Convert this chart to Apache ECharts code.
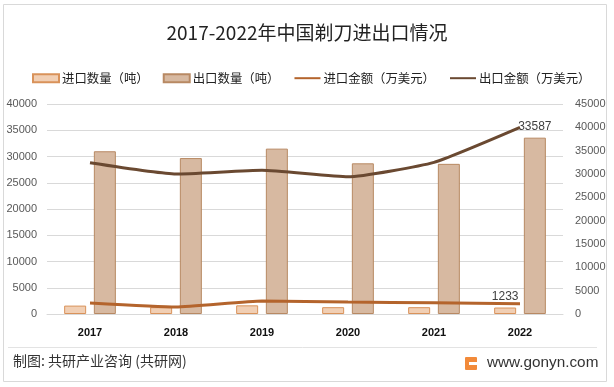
<!DOCTYPE html>
<html><head><meta charset="utf-8">
<script src="https://cdn.jsdelivr.net/npm/echarts@6/dist/echarts.min.js"></script>
<style>html,body{margin:0;padding:0;background:#fff}#c{width:614px;height:387px}</style>
</head><body><div id="c"></div>
<script>
const years = ['2017','2018','2019','2020','2021','2022'];
const importQty = [1600, 1300, 1650, 1300, 1300, 1233];
const exportQty = [31000, 29700, 31500, 28700, 28600, 33587];
const importVal = [2350, 1500, 2770, 2560, 2400, 2200];
const exportVal = [32400, 30000, 30800, 29400, 32500, 40000];
const leftTicks = {min:0, max:40000, interval:5000};
const rightTicks = {min:0, max:45000, interval:5000};

const chart = echarts.init(document.getElementById('c'));
const lastLabel = () => ({
  show: true, position: 'top', color: '#404040', fontSize: 12,
  formatter: p => p.dataIndex === 5 ? String(p.value) : ''
});
const plain = v => String(v);
chart.setOption({
  animation: false,
  title: {text: '2017-2022年中国剃刀进出口情况', left: 'center', top: 18,
    textStyle: {fontSize: 19, fontWeight: 'normal', color: '#222', fontFamily: 'Noto Sans CJK SC'}},
  legend: {top: 67, left: 27, itemWidth: 26, itemHeight: 8, itemGap: 14,
    textStyle: {fontSize: 12.4, color: '#222', fontFamily: 'Noto Sans CJK SC', padding:[0,0,0,-2]},
    data: [
      {name:'进口数量（吨）', icon:'rect'},
      {name:'出口数量（吨）', icon:'rect'},
      {name:'进口金额（万美元）', itemStyle:{opacity:0}},
      {name:'出口金额（万美元）', itemStyle:{opacity:0}}
    ]},
  grid: {left: 47, right: 51, top: 104, bottom: 73},
  xAxis: {type: 'category', data: years,
    axisLine: {lineStyle: {color: '#d9d9d9'}}, axisTick: {show: false},
    axisLabel: {color: '#111', fontWeight: 'bold', fontSize: 11, margin: 13}},
  yAxis: [
    {type: 'value', ...leftTicks,
      axisLabel: {color: '#595959', fontSize: 11, margin: 10, formatter: plain},
      splitLine: {lineStyle: {color: '#d9d9d9'}}},
    {type: 'value', ...rightTicks,
      axisLabel: {color: '#595959', fontSize: 11, margin: 12, formatter: plain},
      splitLine: {show: false}}
  ],
  series: [
    {name:'进口数量（吨）', type:'bar', data: importQty, barWidth: 22, barGap: '35%',
      itemStyle: {color:'#f1cfb4', borderColor:'#d9925a', borderWidth:1}, label: lastLabel()},
    {name:'出口数量（吨）', type:'bar', data: exportQty, barWidth: 22,
      itemStyle: {color:'#d7b9a1', borderColor:'#b88963', borderWidth:1}, label: lastLabel()},
    {name:'进口金额（万美元）', type:'line', yAxisIndex:1, data: importVal, symbol:'none', smooth:0.15,
      lineStyle:{color:'#b4642c', width:3}, itemStyle:{color:'#b4642c'}},
    {name:'出口金额（万美元）', type:'line', yAxisIndex:1, data: exportVal, symbol:'none', smooth:0.15,
      lineStyle:{color:'#6a4931', width:3}, itemStyle:{color:'#6a4931'}}
  ],
  graphic: [
    {type:'rect', shape:{x:3.5,y:4.5,width:603,height:377}, style:{fill:'none', stroke:'#d9d9d9', lineWidth:1}, silent:true},
    {type:'line', shape:{x1:8,y1:347.5,x2:597,y2:347.5}, style:{stroke:'#e3e3e3', lineWidth:1}},
    {type:'text', left:13, top:354, style:{text:'制图: 共研产业咨询 (共研网)', fontSize:14, fill:'#333', fontFamily:'Noto Sans CJK SC'}},
    {type:'rect', shape:{x:465,y:357,width:12,height:13, r:1}, style:{fill:'#f28a3a'}},
    {type:'rect', shape:{x:469,y:362,width:8,height:3}, style:{fill:'#fff'}},
    {type:'text', left:487, top:355, style:{text:'www.gonyn.com', fontSize:15.3, fill:'#333', fontFamily:'Liberation Sans'}}
  ]
});
</script></body></html>
